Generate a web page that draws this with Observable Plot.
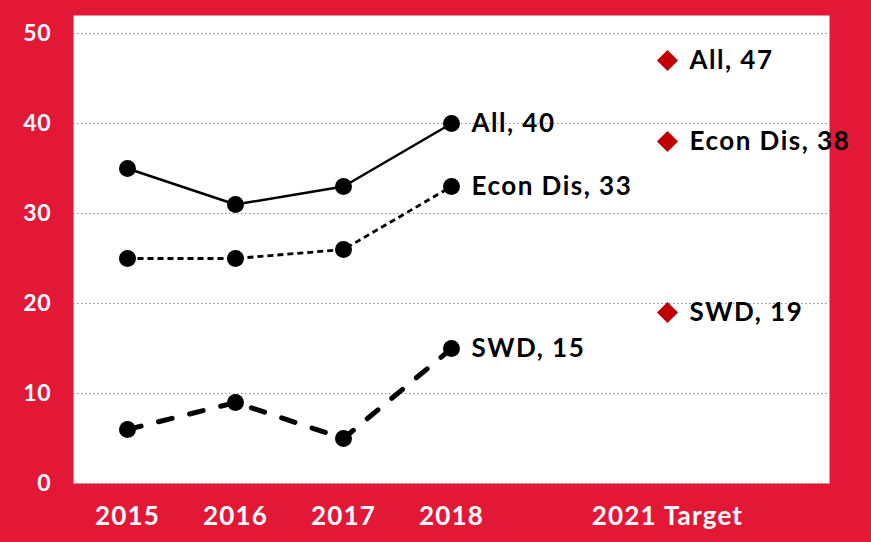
<!DOCTYPE html>
<html>
<head>
<meta charset="utf-8">
<script src="https://cdn.jsdelivr.net/npm/d3@7"></script>
<script src="https://cdn.jsdelivr.net/npm/@observablehq/plot@0.6"></script>
<style>
  html, body { margin: 0; padding: 0; background: #E31837; }
  #chart { width: 871px; height: 542px; }
  #chart g[aria-label="text"] text { letter-spacing: 1.5px; }
  #chart g[aria-label="x-axis tick label"] text { letter-spacing: 1.2px; }
  #chart g[aria-label="y-axis tick label"] text { letter-spacing: 0.8px; }
</style>
</head>
<body>
<div id="chart"></div>
<script>
const years = ["2015", "2016", "2017", "2018"];
const targetLabel = "2021 Target";
const seriesNames = ["All", "Econ Dis", "SWD"];
const allValues = [35, 31, 33, 40];
const econValues = [25, 25, 26, 33];
const swdValues = [6, 9, 5, 15];
const targetValues = [47, 38, 19];
const yTicks = [0, 10, 20, 30, 40, 50];

const xLabels = [...years, "", targetLabel];
const targetIndex = years.length + 1;

const seriesValues = [allValues, econValues, swdValues];
const styles = [
  {strokeWidth: 2.5, strokeDasharray: null, linecap: "butt"},
  {strokeWidth: 2.8, strokeDasharray: "6,4", linecap: "butt"},
  {strokeWidth: 5, strokeDasharray: "14,18", linecap: "round"}
];

const rows = [];
seriesNames.forEach((s, si) => {
  seriesValues[si].forEach((v, i) => rows.push({series: s, x: i, year: years[i], value: v}));
});
const lastRows = seriesNames.map((s, si) => ({series: s, x: years.length - 1, value: seriesValues[si][years.length - 1]}));
const targets = seriesNames.map((s, si) => ({series: s, x: targetIndex, value: targetValues[si]}));

const font = "Lato, 'Open Sans', sans-serif";

const lineMarks = seriesNames.map((s, si) => Plot.line(rows.filter(d => d.series === s), {
  x: "x", y: "value", stroke: "black",
  strokeWidth: styles[si].strokeWidth,
  strokeDasharray: styles[si].strokeDasharray,
  strokeLinecap: styles[si].linecap
}));

const chart = Plot.plot({
  width: 871,
  height: 542,
  marginLeft: 73,
  marginRight: 42,
  marginTop: 15,
  marginBottom: 59,
  style: {background: "#E31837", fontFamily: font, overflow: "visible"},
  x: {type: "linear", domain: [-0.5, xLabels.length + 0.5], axis: null},
  y: {domain: [0, 52], axis: null},
  marks: [
    Plot.frame({fill: "white", stroke: null}),
    Plot.ruleY(yTicks, {stroke: "#8a8a8a", strokeWidth: 1.2, strokeDasharray: "1.5,2.5"}),
    Plot.axisY({ticks: yTicks, tickSize: 0, tickPadding: 22, fontSize: 23, fontWeight: "bold", fill: "white", tickFormat: d => String(d), label: null}),
    Plot.axisX({ticks: [0, 1, 2, 3, targetIndex], tickSize: 0, tickPadding: 23, fontSize: 26, fontWeight: "bold", fill: "white", tickFormat: d => xLabels[d], label: null}),
    ...lineMarks,
    Plot.dot(rows, {x: "x", y: "value", r: 8.5, fill: "black"}),
    Plot.text(lastRows, {x: "x", y: "value", text: d => `${d.series}, ${d.value}`, dx: 20, textAnchor: "start", fontSize: 26, fontWeight: "bold", fill: "black"}),
    Plot.dot(targets, {x: "x", y: "value", symbol: "diamond2", r: 9.5, fill: "#C00000"}),
    Plot.text(targets, {x: "x", y: "value", text: d => `${d.series}, ${d.value}`, dx: 22, textAnchor: "start", fontSize: 26, fontWeight: "bold", fill: "black"})
  ]
});
document.getElementById("chart").append(chart);
</script>
</body>
</html>
